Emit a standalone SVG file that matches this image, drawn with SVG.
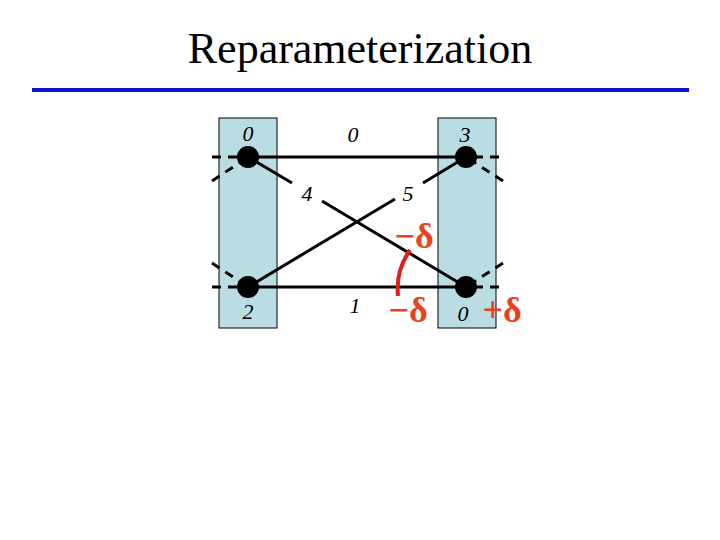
<svg xmlns="http://www.w3.org/2000/svg" width="720" height="540" viewBox="0 0 720 540">
<style>
.col{fill:#b9dde3;stroke:#000;stroke-width:1}
.edge{stroke:#000;stroke-width:3;fill:none}
.dash{stroke:#000;stroke-width:3;fill:none;stroke-dasharray:9 7}
.node{fill:#000}
.lab{font-family:"Liberation Serif","Times New Roman",serif;font-style:italic;font-size:22px;text-anchor:middle;fill:#000}
.red{font-family:"Liberation Serif","Times New Roman",serif;font-weight:bold;font-size:36px;fill:#e8431c;text-anchor:middle}
</style>
<rect width="720" height="540" fill="#fff"/>
<text x="360" y="63" font-family="Liberation Serif,'Times New Roman',serif" font-size="44" text-anchor="middle">Reparameterization</text>
<line x1="32" y1="90" x2="689" y2="90" stroke="#1010d0" stroke-width="4"/>
<g id="col-left"><rect class="col" x="219" y="118" width="58" height="210"/></g>
<g id="col-right"><rect class="col" x="438" y="118" width="58" height="210"/></g>
<g id="connectors">
<line class="edge" x1="248" y1="157" x2="466" y2="157"/>
<line class="edge" x1="248" y1="287" x2="466" y2="287"/>
<line class="edge" x1="248" y1="157" x2="292" y2="183"/>
<line class="edge" x1="322" y1="201" x2="466" y2="287"/>
<line class="edge" x1="248" y1="287" x2="395" y2="199"/>
<line class="edge" x1="423" y1="183" x2="466" y2="157"/>
<line class="dash" x1="212" y1="157" x2="248" y2="157"/>
<line class="dash" x1="212" y1="181" x2="248" y2="157"/>
<line class="dash" x1="499" y1="157" x2="466" y2="157"/>
<line class="dash" x1="503" y1="181" x2="466" y2="157"/>
<line class="dash" x1="212" y1="287" x2="248" y2="287"/>
<line class="dash" x1="212" y1="263" x2="248" y2="287"/>
<line class="dash" x1="499" y1="287" x2="466" y2="287"/>
<line class="dash" x1="503" y1="263" x2="466" y2="287"/>
<path d="M398,296 A68,68 0 0 1 410,250" stroke="#e01e1e" stroke-width="4" fill="none"/>
</g>
<g id="n-tl"><circle class="node" cx="248" cy="157" r="11"/><text class="lab" x="248" y="141">0</text></g>
<g id="n-tr"><circle class="node" cx="466" cy="157" r="11"/><text class="lab" x="465" y="142">3</text></g>
<g id="n-bl"><circle class="node" cx="248" cy="287" r="11"/><text class="lab" x="248" y="319">2</text></g>
<g id="n-br"><circle class="node" cx="466" cy="287" r="11"/><text class="lab" x="463" y="321">0</text></g>
<g id="labels">
<text class="lab" x="353" y="142">0</text>
<text class="lab" x="307" y="201">4</text>
<text class="lab" x="408" y="201">5</text>
<text class="lab" x="355" y="313">1</text>
<text class="red" x="414" y="248">−δ</text>
<text class="red" x="408" y="322">−δ</text>
<text class="red" x="502" y="322">+δ</text>
</g>
</svg>
